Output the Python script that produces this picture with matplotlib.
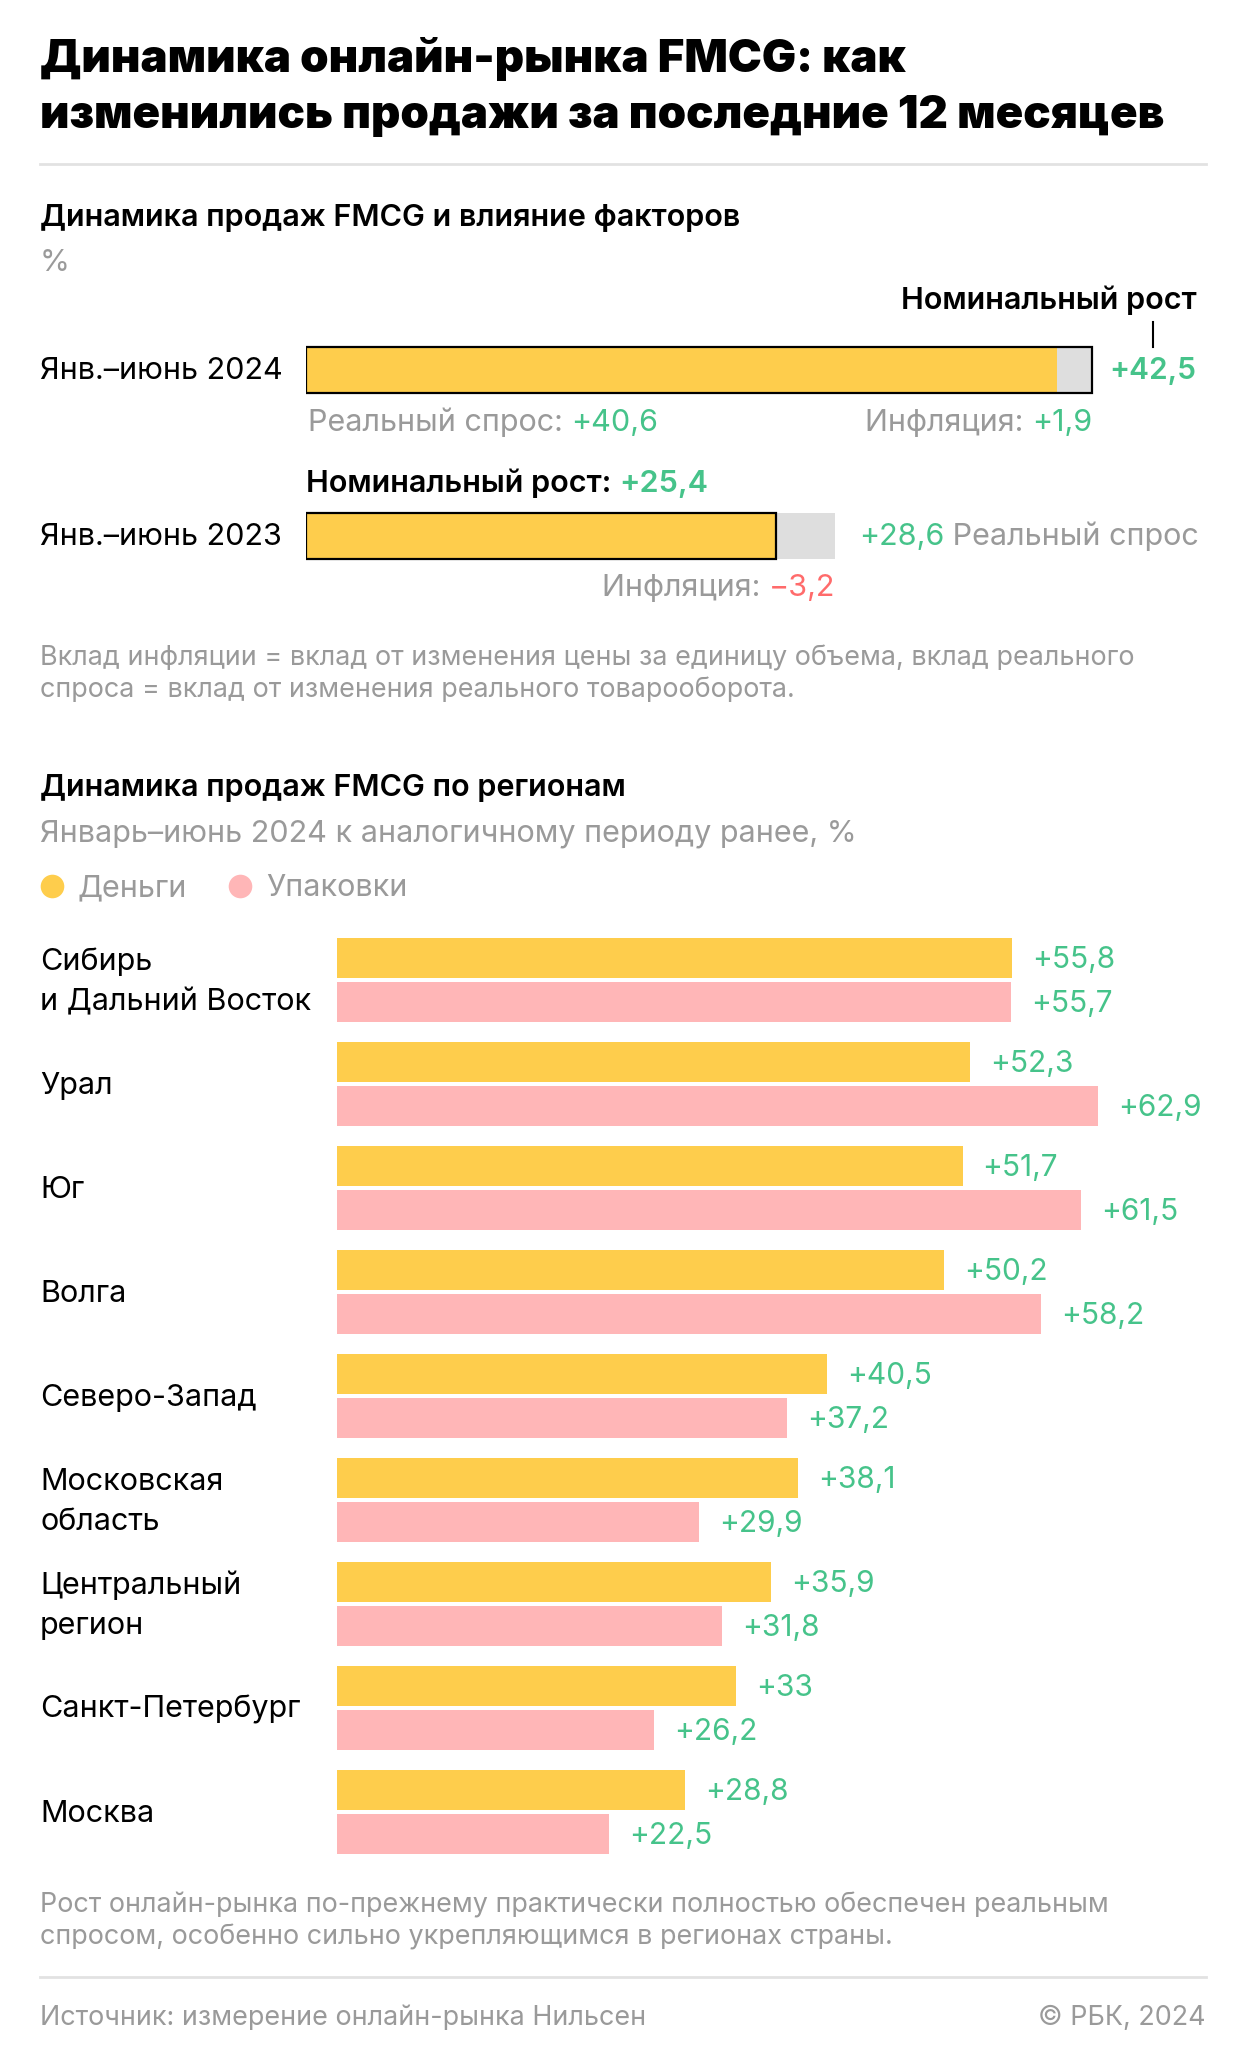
import numpy as np
import matplotlib
matplotlib.use('Agg')
import matplotlib.pyplot as plt
from matplotlib.transforms import offset_copy, blended_transform_factory, IdentityTransform
from matplotlib.lines import Line2D

W, H, DPI = 1240, 2066, 100
plt.rcParams['font.family'] = ['Inter', 'DejaVu Sans']

YELLOW = '#FECD4C'
PINK = '#FFB6B7'
GREEN = '#46C38A'
RED = '#FF6B6B'
GRAY = '#9A9A9A'
BARGRAY = '#DEDEDE'
BLACK = '#000000'
SEP = '#E2E2E2'

# ---------------- data ----------------
title_lines = ['Динамика онлайн-рынка FMCG: как',
               'изменились продажи за последние 12 месяцев']
sub1 = 'Динамика продаж FMCG и влияние факторов'
unit1 = '%'
periods = ['Янв.–июнь 2024', 'Янв.–июнь 2023']
real_demand = [40.6, 28.6]
inflation = [1.9, -3.2]
nominal = [42.5, 25.4]
note1 = ['Вклад инфляции = вклад от изменения цены за единицу объема, вклад реального',
         'спроса = вклад от изменения реального товарооборота.']

sub2 = 'Динамика продаж FMCG по регионам'
sub2b = 'Январь–июнь 2024 к аналогичному периоду ранее, %'
series_names = ['Деньги', 'Упаковки']
regions = ['Сибирь\nи Дальний Восток', 'Урал', 'Юг', 'Волга', 'Северо-Запад',
           'Московская\nобласть', 'Центральный\nрегион', 'Санкт-Петербург', 'Москва']
money = [55.8, 52.3, 51.7, 50.2, 40.5, 38.1, 35.9, 33.0, 28.8]
packs = [55.7, 62.9, 61.5, 58.2, 37.2, 29.9, 31.8, 26.2, 22.5]
note2 = ['Рост онлайн-рынка по-прежнему практически полностью обеспечен реальным',
         'спросом, особенно сильно укрепляющимся в регионах страны.']
source = 'Источник: измерение онлайн-рынка Нильсен'
credit = '© РБК, 2024'


def fmt(v):
    s = f"{v:+.1f}"
    if s.endswith('.0'):
        s = s[:-2]
    return s.replace('.', ',').replace('-', '−')


fig = plt.figure(figsize=(W / DPI, H / DPI), dpi=DPI)
fig.patch.set_facecolor('white')


def fx(x):
    return x / W


def fy(y):
    return 1 - y / H


def ftext(x, y, s, **kw):
    va = kw.pop('va', 'baseline')
    return fig.text(fx(x), fy(y), s, va=va, **kw)


def hline(y, x0=40, x1=1206):
    fig.add_artist(Line2D([fx(x0), fx(x1)], [fy(y), fy(y)], color=SEP, lw=2,
                          transform=fig.transFigure))


def px_axes(left, top, right, bottom):
    ax = fig.add_axes([fx(left), fy(bottom), (right - left) / W, (bottom - top) / H])
    ax.axis('off')
    return ax


def dtext(ax, x, y, s, dx=0, dy=0, **kw):
    tr = offset_copy(ax.transData, fig=fig, x=dx, y=-dy, units='dots')
    va = kw.pop('va', 'baseline')
    return ax.text(x, y, s, transform=tr, va=va, clip_on=False, **kw)


def after(ax, t, s, **kw):
    return ax.annotate(s, xy=(1, 0), xycoords=t, ha='left', va='bottom', **kw)


def before(ax, t, s, **kw):
    return ax.annotate(s, xy=(0, 0), xycoords=t, ha='right', va='bottom', **kw)


FS_TITLE = 32.8
FS_HEAD = 22
FS_LAB = 22
FS_VAL = 21.5
FS_NOTE = 19.4

# ---------------- header ----------------
ftext(40, 72, title_lines[0], fontsize=FS_TITLE, fontweight='black', color=BLACK)
ftext(40, 128, title_lines[1], fontsize=FS_TITLE, fontweight='black', color=BLACK)
hline(164)
ftext(40, 226, sub1, fontsize=FS_HEAD, fontweight='semibold', color=BLACK)
ftext(40, 271, unit1, fontsize=FS_LAB, color=GRAY)

# ---------------- top chart ----------------
SCALE1 = 18.5
L1, R1 = 306, 1206
PITCH1 = 166
ax1 = px_axes(L1, 370 - PITCH1 / 2, R1, 536 + PITCH1 / 2)
ax1.set_xlim(0, (R1 - L1) / SCALE1)
ax1.set_ylim(len(periods) - 0.5, -0.5)
bh1 = 46 / PITCH1
yp = np.arange(len(periods))
base = [min(r, n) for r, n in zip(real_demand, nominal)]
topv = [max(r, n) for r, n in zip(real_demand, nominal)]
ax1.barh(yp, [t - b for t, b in zip(topv, base)], left=base, height=bh1, color=BARGRAY)
ax1.barh(yp, base, height=bh1, color=YELLOW)
ax1.barh(yp, nominal, height=bh1, fill=False, edgecolor=BLACK, linewidth=1.6)

tr_lab1 = blended_transform_factory(fig.transFigure, ax1.transData)
for i, p in enumerate(periods):
    fig.text(fx(40), i, p, transform=offset_copy(tr_lab1, fig=fig, x=0, y=-9, units='dots'),
             va='baseline', fontsize=FS_LAB, color=BLACK)

# 2024 row
v0 = dtext(ax1, nominal[0], 0, fmt(nominal[0]), dx=17, dy=9, fontsize=FS_VAL,
           fontweight='semibold', color=GREEN)
hdr = ax1.annotate('Номинальный рост', xy=(1, 0), xycoords=(v0, ax1.transData),
                   xytext=(0, 61), textcoords='offset pixels', ha='right', va='baseline',
                   fontsize=FS_LAB, fontweight='semibold', color=BLACK)
t = dtext(ax1, 0, 0, 'Реальный спрос: ', dx=2, dy=61, fontsize=FS_LAB, color=GRAY)
after(ax1, t, fmt(real_demand[0]), fontsize=FS_LAB, color=GREEN)
t = dtext(ax1, nominal[0], 0, fmt(inflation[0]), dy=61, ha='right', fontsize=FS_LAB,
          color=GREEN if inflation[0] >= 0 else RED)
before(ax1, t, 'Инфляция: ', fontsize=FS_LAB, color=GRAY)

# 2023 row
t = dtext(ax1, 0, 1, 'Номинальный рост: ', dy=-44, fontsize=FS_LAB, fontweight='semibold',
          color=BLACK)
after(ax1, t, fmt(nominal[1]), fontsize=FS_LAB, fontweight='semibold', color=GREEN)
t = dtext(ax1, real_demand[1], 1, fmt(real_demand[1]), dx=24, dy=9, fontsize=FS_LAB,
          color=GREEN)
after(ax1, t, ' Реальный спрос', fontsize=FS_LAB, color=GRAY)
t = dtext(ax1, real_demand[1], 1, fmt(inflation[1]), dy=60, ha='right', fontsize=FS_LAB,
          color=GREEN if inflation[1] >= 0 else RED)
before(ax1, t, 'Инфляция: ', fontsize=FS_LAB, color=GRAY)

ftext(40, 665, note1[0], fontsize=FS_NOTE, color=GRAY)
ftext(40, 697, note1[1], fontsize=FS_NOTE, color=GRAY)

# ---------------- regional chart ----------------
ftext(40, 796, sub2, fontsize=FS_HEAD, fontweight='semibold', color=BLACK)
ftext(40, 841, sub2b, fontsize=FS_LAB, color=GRAY)

leg_x = [52, 240]
for (cx, name, col) in zip(leg_x, series_names, [YELLOW, PINK]):
    fig.add_artist(Line2D([fx(cx)], [fy(886)], marker='o', markersize=17, color=col,
                          markeredgewidth=0, transform=fig.transFigure))
    ftext(cx + 26, 896, name, fontsize=FS_LAB, color=GRAY)

SCALE2 = 12.1
L2, R2 = 337, 1206
PITCH2 = 104
ax2 = px_axes(L2, 980 - PITCH2 / 2, R2, 980 + PITCH2 * (len(regions) - 0.5))
ax2.set_xlim(0, (R2 - L2) / SCALE2)
ax2.set_ylim(len(regions) - 0.5, -0.5)
off = 22 / PITCH2
h2 = 40 / PITCH2
y2 = np.arange(len(regions))
ax2.barh(y2 - off, money, height=h2, color=YELLOW)
ax2.barh(y2 + off, packs, height=h2, color=PINK)
for i, (m, p) in enumerate(zip(money, packs)):
    dtext(ax2, m, i - off, fmt(m), dx=20, dy=10, fontsize=FS_VAL, color=GREEN)
    dtext(ax2, p, i + off, fmt(p), dx=20, dy=10, fontsize=FS_VAL, color=GREEN)

tr2 = blended_transform_factory(fig.transFigure, ax2.transData)
for i, name in enumerate(regions):
    lines = name.split('\n')
    n = len(lines)
    for k, line in enumerate(lines):
        dy = 10 + (k - (n - 1) / 2) * 40
        fig.text(fx(40), i, line, transform=offset_copy(tr2, fig=fig, x=0, y=-dy, units='dots'),
                 va='baseline', fontsize=FS_LAB, color=BLACK)

ftext(40, 1913, note2[0], fontsize=FS_NOTE, color=GRAY)
ftext(40, 1945, note2[1], fontsize=FS_NOTE, color=GRAY)
hline(1977)
ftext(40, 2025, source, fontsize=FS_NOTE, color=GRAY)
ftext(1206, 2025, credit, fontsize=FS_NOTE, color=GRAY, ha='right')

# leader tick between header and top value
fig.canvas.draw()
bb = v0.get_window_extent()
cx = (bb.x0 + bb.x1) / 2
bar_top = ax1.transData.transform((0, -bh1 / 2))[1]
fig.add_artist(Line2D([cx, cx], [bar_top, bar_top + 25], color=BLACK, lw=1.5,
                      transform=IdentityTransform()))

fig.savefig('out.png', dpi=DPI, facecolor='white')
